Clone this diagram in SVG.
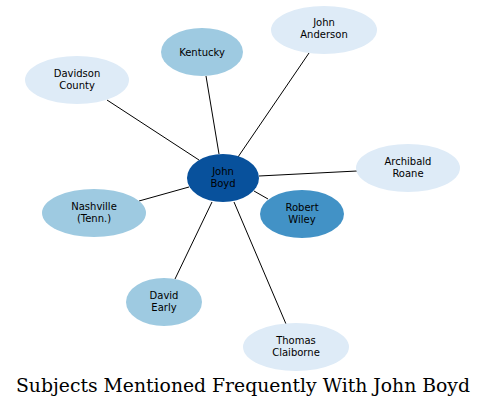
<svg xmlns="http://www.w3.org/2000/svg" width="487" height="409" viewBox="0 0 487 409">
<style>
.n text{font-family:"DejaVu Sans",sans-serif;font-size:10px;fill:#000;text-anchor:middle}
.l1{fill:#deebf7}.l2{fill:#9ecae1}.l3{fill:#4292c6}.l4{fill:#08519c}
#edges line{stroke:#000;stroke-width:1}
.title{font-family:"DejaVu Serif",serif;font-size:18px;fill:#000;text-anchor:middle}
</style>
<rect width="487" height="409" fill="#fff"/>
<g id="edges">
<line x1="219" y1="154" x2="206" y2="76"/>
<line x1="238" y1="157" x2="309" y2="53"/>
<line x1="199" y1="160" x2="107" y2="100"/>
<line x1="259" y1="176" x2="357" y2="171"/>
<line x1="189" y1="187" x2="139" y2="201"/>
<line x1="254" y1="191" x2="268" y2="199"/>
<line x1="212" y1="202" x2="175" y2="279"/>
<line x1="234" y1="202" x2="286" y2="324"/>
</g>
<g id="kentucky" class="n"><ellipse class="l2" cx="202" cy="52" rx="41" ry="24"/><text x="202" y="56">Kentucky</text></g>
<g id="john-anderson" class="n"><ellipse class="l1" cx="324" cy="30" rx="53" ry="24"/><text x="324" y="26">John</text><text x="324" y="38">Anderson</text></g>
<g id="davidson-county" class="n"><ellipse class="l1" cx="77" cy="80" rx="52" ry="24"/><text x="77" y="77">Davidson</text><text x="77" y="89">County</text></g>
<g id="archibald-roane" class="n"><ellipse class="l1" cx="408" cy="168" rx="52" ry="24"/><text x="408" y="165">Archibald</text><text x="408" y="177">Roane</text></g>
<g id="nashville" class="n"><ellipse class="l2" cx="94" cy="213" rx="52" ry="24"/><text x="94" y="210">Nashville</text><text x="94" y="222">(Tenn.)</text></g>
<g id="robert-wiley" class="n"><ellipse class="l3" cx="302" cy="214" rx="42" ry="24"/><text x="302" y="211">Robert</text><text x="302" y="223">Wiley</text></g>
<g id="david-early" class="n"><ellipse class="l2" cx="164" cy="302" rx="38" ry="24"/><text x="164" y="299">David</text><text x="164" y="311">Early</text></g>
<g id="thomas-claiborne" class="n"><ellipse class="l1" cx="296" cy="347" rx="53" ry="24"/><text x="296" y="344">Thomas</text><text x="296" y="356">Claiborne</text></g>
<g id="john-boyd" class="n"><ellipse class="l4" cx="223" cy="178" rx="36" ry="24"/><text x="223" y="175">John</text><text x="223" y="187">Boyd</text></g>
<text class="title" x="243" y="392" textLength="454" lengthAdjust="spacingAndGlyphs">Subjects Mentioned Frequently With John Boyd</text>
</svg>
